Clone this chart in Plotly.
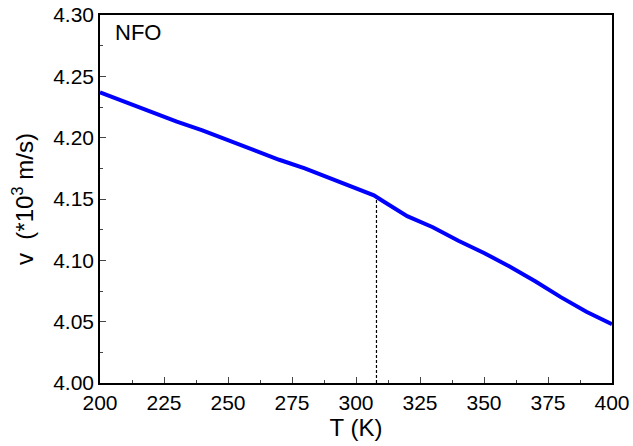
import plotly.graph_objects as go

T = [200, 210, 220, 230, 240, 250, 260, 270, 280, 290, 300, 307, 310, 320, 330, 340, 350, 360, 370, 380, 390, 400]
v = [4.237, 4.229, 4.221, 4.213, 4.206, 4.198, 4.190, 4.182, 4.175, 4.167, 4.159, 4.153, 4.149, 4.136, 4.127, 4.116, 4.106, 4.095, 4.083, 4.070, 4.058, 4.048]
Tc = 308
Tc_v = 4.151

fig = go.Figure()
fig.add_trace(go.Scatter(x=[Tc, Tc], y=[4.0, Tc_v], mode="lines",
                         line=dict(color="black", width=1.2, dash="3px,2px"), showlegend=False))
fig.add_trace(go.Scatter(x=T, y=v, mode="lines", line=dict(color="#0000FF", width=4), showlegend=False))

font = "Liberation Sans, Arial, sans-serif"
fig.update_layout(
    width=633, height=446, margin=dict(l=100, r=21, t=15, b=63, autoexpand=False),
    plot_bgcolor="white", paper_bgcolor="white",
    font=dict(family=font, size=21, color="black"),
    annotations=[dict(text="NFO", x=0.025, y=0.993, xref="paper", yref="paper",
                      xanchor="left", yanchor="top", showarrow=False, font=dict(size=22))],
)
fig.update_xaxes(range=[200, 400], tickvals=[200, 225, 250, 275, 300, 325, 350, 375, 400],
                 ticks="inside", ticklen=6, tickwidth=1.2, showline=True, linecolor="black", linewidth=1.5,
                 mirror=True, showgrid=False, zeroline=False, automargin=False,
                 minor=dict(ticks="inside", ticklen=3, tickwidth=1.2, dtick=12.5, tick0=200),
                 title=dict(text="T (K)", font=dict(size=24), standoff=5))
fig.update_yaxes(range=[4.0, 4.3], tickvals=[4.0, 4.05, 4.1, 4.15, 4.2, 4.25, 4.3], tickformat=".2f",
                 ticks="inside", ticklen=6, tickwidth=1.2, showline=True, linecolor="black", linewidth=1.5,
                 mirror=True, showgrid=False, zeroline=False, automargin=False,
                 minor=dict(ticks="inside", ticklen=3, tickwidth=1.2, dtick=0.025, tick0=4.0),
                 title=dict(text="v  (*10<sup>3</sup> m/s)", font=dict(size=24), standoff=13))
fig.write_html("out.html")
